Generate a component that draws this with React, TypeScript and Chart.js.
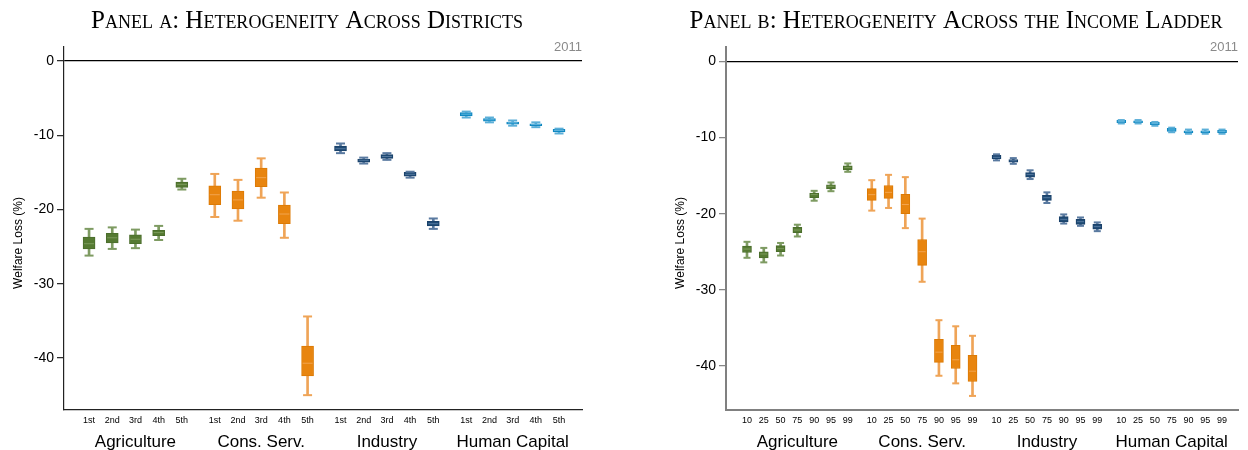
import React, { useEffect, useRef } from 'react';
import { Chart, registerables } from 'chart.js';
Chart.register(...registerables);

const SECTORS = ['Agriculture', 'Cons. Serv.', 'Industry', 'Human Capital'];
const DISTRICT_LABELS = ['1st', '2nd', '3rd', '4th', '5th'];
const INCOME_LABELS = ['10', '25', '50', '75', '90', '95', '99'];
const Y_TICKS = [0, -10, -20, -30, -40];
const NOTE = '2011';
const Y_LABEL = 'Welfare Loss (%)';
const TITLE_A = 'Panel a: Heterogeneity Across Districts';
const TITLE_B = 'Panel b: Heterogeneity Across the Income Ladder';

// each row: [lower whisker, q1, median, q3, upper whisker]
const A_AGRICULTURE = [
  [-26.2, -25.3, -24.6, -23.7, -22.6],
  [-25.3, -24.5, -23.8, -23.2, -22.4],
  [-25.2, -24.6, -24.0, -23.4, -22.7],
  [-24.1, -23.5, -23.1, -22.8, -22.2],
  [-17.3, -17.0, -16.6, -16.3, -15.85],
];
const A_CONS_SERV = [
  [-21.0, -19.35, -18.0, -16.8, -15.2],
  [-21.5, -19.9, -18.7, -17.5, -16.0],
  [-18.4, -16.9, -15.7, -14.4, -13.1],
  [-23.8, -21.9, -20.6, -19.4, -17.7],
  [-45.0, -42.4, -40.7, -38.4, -34.4],
];
const A_INDUSTRY = [
  [-12.4, -12.1, -11.8, -11.45, -11.1],
  [-13.8, -13.6, -13.35, -13.2, -13.0],
  [-13.3, -13.1, -12.85, -12.6, -12.4],
  [-15.7, -15.5, -15.25, -15.0, -14.9],
  [-22.6, -22.2, -21.9, -21.6, -21.2],
];
const A_HUMAN_CAPITAL = [
  [-7.6, -7.4, -7.15, -6.95, -6.8],
  [-8.25, -8.1, -7.9, -7.75, -7.6],
  [-8.7, -8.5, -8.3, -8.2, -8.0],
  [-8.9, -8.7, -8.55, -8.45, -8.25],
  [-9.75, -9.55, -9.35, -9.2, -9.1],
];
const B_AGRICULTURE = [
  [-25.8, -25.1, -24.65, -24.25, -23.7],
  [-26.4, -25.8, -25.3, -25.0, -24.5],
  [-25.5, -25.0, -24.6, -24.2, -23.85],
  [-23.0, -22.5, -22.15, -21.8, -21.45],
  [-18.3, -17.9, -17.5, -17.3, -17.0],
  [-17.05, -16.75, -16.4, -16.2, -15.9],
  [-14.5, -14.25, -13.95, -13.7, -13.4],
];
const B_CONS_SERV = [
  [-19.6, -18.25, -17.5, -16.7, -15.6],
  [-19.25, -18.0, -17.2, -16.3, -14.9],
  [-21.9, -20.0, -18.8, -17.45, -15.2],
  [-28.95, -26.8, -25.0, -23.4, -20.65],
  [-41.3, -39.55, -38.2, -36.5, -34.0],
  [-42.3, -40.35, -39.2, -37.3, -34.8],
  [-43.95, -42.05, -40.7, -38.6, -36.05],
];
const B_INDUSTRY = [
  [-13.0, -12.8, -12.6, -12.35, -12.2],
  [-13.45, -13.25, -13.05, -12.9, -12.7],
  [-15.45, -15.2, -14.85, -14.6, -14.3],
  [-18.6, -18.25, -17.9, -17.6, -17.2],
  [-21.3, -21.1, -20.75, -20.4, -20.1],
  [-21.6, -21.4, -21.05, -20.75, -20.5],
  [-22.3, -22.05, -21.7, -21.4, -21.15],
];
const B_HUMAN_CAPITAL = [
  [-8.15, -8.05, -7.9, -7.75, -7.7],
  [-8.15, -8.05, -7.9, -7.8, -7.7],
  [-8.45, -8.3, -8.15, -8.0, -7.95],
  [-9.3, -9.2, -9.0, -8.8, -8.7],
  [-9.5, -9.4, -9.2, -9.1, -8.95],
  [-9.5, -9.4, -9.2, -9.1, -8.95],
  [-9.5, -9.35, -9.2, -9.05, -8.95],
];

// colours per sector
const BOX_COLORS = ['#557A32', '#E8850F', '#1F4B75', '#1690C9'];
const BOX_BORDERS = ['#4B6E2C', '#DC7A05', '#1A416A', '#0F86BF'];
const MEDIAN_COLORS = ['#7C9B5C', '#F2A44F', '#52769D', '#5DB2DB'];
const WHISKER_COLORS = ['#7E9B62', '#EFA457', '#5A7AA0', '#5CAFD8'];

const FONT = '"Liberation Sans", Arial, Helvetica, sans-serif';
const SERIF = '"Liberation Serif", "Times New Roman", serif';

const decorPlugin = {
  id: 'decor',
  afterDraw(chart: any, _args: any, opts: any) {
    const ctx = chart.ctx as CanvasRenderingContext2D;
    const ca = chart.chartArea;
    ctx.save();
    ctx.font = `small-caps ${opts.titleSize}px ${SERIF}`;
    try { (ctx as any).fontVariantCaps = 'small-caps'; } catch (e) {}
    ctx.fillStyle = '#000';
    ctx.textAlign = 'center';
    ctx.textBaseline = 'alphabetic';
    ctx.fillText(opts.title, opts.titleX, opts.titleY);
    try { (ctx as any).fontVariantCaps = 'normal'; } catch (e) {}
    ctx.font = `13px ${FONT}`;
    ctx.fillStyle = '#8a8a8a';
    ctx.textAlign = 'right';
    ctx.textBaseline = 'middle';
    ctx.fillText(opts.note, ca.right, opts.noteY);
    ctx.translate(opts.ylabX, opts.ylabY);
    ctx.rotate(-Math.PI / 2);
    ctx.font = `12px ${FONT}`;
    ctx.fillStyle = '#000';
    ctx.textAlign = 'center';
    ctx.textBaseline = 'middle';
    ctx.fillText(opts.ylab, 0, 0);
    ctx.restore();
  },
};

type PanelCfg = {
  groups: number[][][];
  itemLabels: string[];
  gap: number;
  xMin: number;
  xMax: number;
  yMin: number;
  yMax: number;
  boxW: number;
  capW: number;
  axisColor: string;
  axisWidth: number;
  yAxisWidth: number;
  padRight: number;
  title: string;
  titleX: number;
  titleSize: number;
  ylabX: number;
};

function buildConfig(p: PanelCfg): any {
  const n = p.itemLabels.length;
  const stride = n - 1 + p.gap;
  const pos: number[] = [];
  const whisk: any[] = [], box: any[] = [], med: any[] = [], caps: any[] = [];
  const wc: string[] = [], bc: string[] = [], bb: string[] = [], mc: string[] = [], cc: string[] = [];
  p.groups.forEach((rows, g) => {
    rows.forEach((r, i) => {
      const x = g * stride + i;
      pos.push(x);
      whisk.push({ x, y: [r[0], r[4]] }); wc.push(WHISKER_COLORS[g]);
      box.push({ x, y: [r[1], r[3]] }); bc.push(BOX_COLORS[g]); bb.push(BOX_BORDERS[g]);
      med.push({ x, y: r[2] }); mc.push(MEDIAN_COLORS[g]);
      caps.push({ x, y: r[0] }); cc.push(WHISKER_COLORS[g]);
      caps.push({ x, y: r[4] }); cc.push(WHISKER_COLORS[g]);
    });
  });
  const centers = p.groups.map((_, g) => g * stride + (n - 1) / 2);
  return {
    type: 'bar',
    data: {
      datasets: [
        { type: 'bar', data: whisk, backgroundColor: wc, barThickness: 2, grouped: false, order: 4, borderWidth: 0 },
        { type: 'bar', data: box, backgroundColor: bc, borderColor: bb, borderWidth: 1, borderSkipped: false, barThickness: p.boxW, grouped: false, order: 3 },
        { type: 'scatter', data: med, pointStyle: 'line', pointRadius: p.boxW / 2 - 1, pointBorderColor: mc, pointBorderWidth: 1, order: 2 },
        { type: 'scatter', data: caps, pointStyle: 'line', pointRadius: p.capW / 2, pointBorderColor: cc, pointBorderWidth: 2, order: 1 },
      ],
    },
    options: {
      animation: false,
      responsive: false,
      devicePixelRatio: 1,
      events: [],
      layout: { padding: { top: 47, right: p.padRight, left: 0, bottom: 0 } },
      plugins: {
        legend: { display: false },
        tooltip: { enabled: false },
        title: { display: false },
        decor: {
          title: p.title, titleX: p.titleX, titleY: 28, titleSize: p.titleSize,
          note: NOTE, noteY: 47, ylab: Y_LABEL, ylabX: p.ylabX, ylabY: 243,
        },
      },
      scales: {
        x: {
          type: 'linear', min: p.xMin, max: p.xMax, weight: 1, offset: false,
          grid: { display: false, drawTicks: false },
          border: { display: true, color: p.axisColor, width: p.axisWidth },
          ticks: {
            autoSkip: false, maxRotation: 0, padding: 5, color: '#000',
            font: { size: 9, family: FONT },
            callback: (_v: any, i: number) => p.itemLabels[i % n],
          },
          afterBuildTicks: (s: any) => { s.ticks = pos.map((v) => ({ value: v })); },
          afterFit: (s: any) => { s.height = 18; },
        },
        x2: {
          type: 'linear', position: 'bottom', min: p.xMin, max: p.xMax, weight: 2, offset: false,
          grid: { display: false, drawTicks: false },
          border: { display: false },
          ticks: {
            autoSkip: false, maxRotation: 0, padding: 4, color: '#000',
            font: { size: 17, family: FONT },
            callback: (_v: any, i: number) => SECTORS[i],
          },
          afterBuildTicks: (s: any) => { s.ticks = centers.map((v) => ({ value: v })); },
          afterFit: (s: any) => { s.height = 22; },
        },
        y: {
          type: 'linear', min: p.yMin, max: p.yMax,
          grid: {
            color: (c: any) => (c.tick && c.tick.value === 0 ? '#000' : 'rgba(0,0,0,0)'),
            lineWidth: 1.3, drawTicks: true, tickLength: 7, tickColor: p.axisColor, tickWidth: 1.2,
          },
          border: { display: true, color: p.axisColor, width: p.axisWidth },
          ticks: { padding: 3, color: '#000', font: { size: 14, family: FONT } },
          afterBuildTicks: (s: any) => { s.ticks = Y_TICKS.map((v) => ({ value: v })); },
          afterFit: (s: any) => { s.width = p.yAxisWidth; },
        },
      },
    },
    plugins: [decorPlugin],
  };
}

const PANEL_A: PanelCfg = {
  groups: [A_AGRICULTURE, A_CONS_SERV, A_INDUSTRY, A_HUMAN_CAPITAL],
  itemLabels: DISTRICT_LABELS, gap: 1.42, xMin: -1.08, xMax: 21.25,
  yMin: -47.0, yMax: 1.9, boxW: 12, capW: 9,
  axisColor: '#222', axisWidth: 1.2, yAxisWidth: 64, padRight: 42,
  title: TITLE_A, titleX: 307, titleSize: 25, ylabX: 19,
};
const PANEL_B: PanelCfg = {
  groups: [B_AGRICULTURE, B_CONS_SERV, B_INDUSTRY, B_HUMAN_CAPITAL],
  itemLabels: INCOME_LABELS, gap: 1.43, xMin: -1.25, xMax: 29.24,
  yMin: -45.8, yMax: 1.9, boxW: 9, capW: 7,
  axisColor: '#808080', axisWidth: 2, yAxisWidth: 102, padRight: 10,
  title: TITLE_B, titleX: 332, titleSize: 25, ylabX: 57,
};

function BoxPanel({ cfg, left }: { cfg: PanelCfg; left: number }) {
  const ref = useRef<HTMLCanvasElement | null>(null);
  useEffect(() => {
    if (!ref.current) return;
    const chart = new Chart(ref.current, buildConfig(cfg));
    return () => chart.destroy();
  }, [cfg]);
  return (
    <canvas
      ref={ref}
      width={624}
      height={450}
      style={{ position: 'absolute', left, top: 0, width: 624, height: 450 }}
    />
  );
}

export default function App() {
  return (
    <div style={{ position: 'fixed', left: 0, top: 0, width: 1248, height: 450, background: '#fff', overflow: 'hidden' }}>
      <BoxPanel cfg={PANEL_A} left={0} />
      <BoxPanel cfg={PANEL_B} left={624} />
    </div>
  );
}
